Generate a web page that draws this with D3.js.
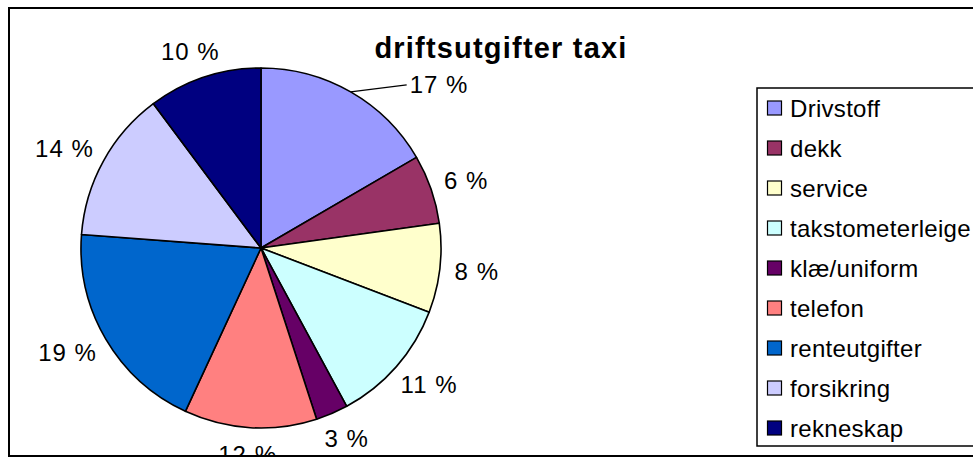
<!DOCTYPE html>
<html>
<head>
<meta charset="utf-8">
<script src="https://cdn.jsdelivr.net/npm/d3@7"></script>
<style>
  html, body { margin: 0; padding: 0; background: #fff; }
  svg { display: block; }
  text { font-family: "Liberation Sans", Arial, sans-serif; fill: #000; }
</style>
</head>
<body>
<script>
// ---- data ----
const categories = ["Drivstoff", "dekk", "service", "takstometerleige", "klæ/uniform", "telefon", "renteutgifter", "forsikring", "rekneskap"];
const values = [16.6, 6.2, 8.0, 11.3, 2.9, 11.9, 19.3, 13.6, 10.2];
const labels = ["17 %", "6 %", "8 %", "11 %", "3 %", "12 %", "19 %", "14 %", "10 %"];
const colors = ["#9999FF", "#993366", "#FFFFCC", "#CCFFFF", "#660066", "#FF8080", "#0066CC", "#CCCCFF", "#000080"];
const title = "driftsutgifter taxi";

// ---- layout ----
const W = 973, H = 459;
const cx = 261, cy = 248, R = 180;
const labelGap = 15;

const svg = d3.select("body").append("svg").attr("width", W).attr("height", H);

svg.append("defs").append("clipPath").attr("id", "area")
  .append("rect").attr("x", 9).attr("y", 8).attr("width", 1000).attr("height", 448);

const chart = svg.append("g").attr("clip-path", "url(#area)");

// pie
const pie = d3.pie().sort(null).value(d => d)(values);
const arc = d3.arc().innerRadius(0).outerRadius(R);

const gPie = chart.append("g").attr("transform", `translate(${cx},${cy})`);
gPie.selectAll("path").data(pie).join("path")
  .attr("d", arc)
  .attr("fill", (d, i) => colors[i])
  .attr("stroke", "#000")
  .attr("stroke-width", 1.6)
  .attr("stroke-linejoin", "round");

// labels
const gLab = chart.append("g").attr("transform", `translate(${cx},${cy})`);
pie.forEach((d, i) => {
  const a = (d.startAngle + d.endAngle) / 2;
  const s = Math.sin(a), c = Math.cos(a);
  const t = gLab.append("text")
    .attr("font-size", 24)
    .attr("letter-spacing", 1)
    .attr("dominant-baseline", "central")
    .text(labels[i]);
  if (i === 0) {
    // label moved out, with leader line
    const x0 = R * s, y0 = -R * c;
    const x1 = x0 + 56, y1 = y0 - 7;
    gLab.append("line").attr("x1", x0).attr("y1", y0).attr("x2", x1).attr("y2", y1)
      .attr("stroke", "#000").attr("stroke-width", 1.3);
    t.attr("x", x1 + 3).attr("y", y1).attr("text-anchor", "start");
  } else {
    const w = t.node().getComputedTextLength();
    const h = 24;
    const px = (R + labelGap) * s + (w / 2) * s;
    const py = -(R + labelGap) * c - (h / 2) * c;
    t.attr("x", px).attr("y", py).attr("text-anchor", "middle");
  }
});

// title
chart.append("text")
  .attr("x", 501).attr("y", 58)
  .attr("text-anchor", "middle")
  .attr("font-size", 29)
  .attr("font-weight", "bold")
  .attr("letter-spacing", 1.2)
  .text(title);

// legend
const lg = chart.append("g");
lg.append("rect").attr("x", 757).attr("y", 88).attr("width", 300).attr("height", 358)
  .attr("fill", "#fff").attr("stroke", "#000").attr("stroke-width", 1.5);
const rowY = d3.scalePoint().domain(categories).range([108, 428]);
categories.forEach((cat, i) => {
  const y = rowY(cat);
  lg.append("rect").attr("x", 767.5).attr("y", y - 7).attr("width", 14).attr("height", 14)
    .attr("fill", colors[i]).attr("stroke", "#000").attr("stroke-width", 1.2);
  lg.append("text").attr("x", 790).attr("y", y)
    .attr("dominant-baseline", "central")
    .attr("font-size", 24)
    .attr("letter-spacing", 0.3)
    .text(cat);
});

// outer border
svg.append("rect").attr("x", 9).attr("y", 8).attr("width", 1000).attr("height", 448)
  .attr("fill", "none").attr("stroke", "#000").attr("stroke-width", 2);
</script>
</body>
</html>
